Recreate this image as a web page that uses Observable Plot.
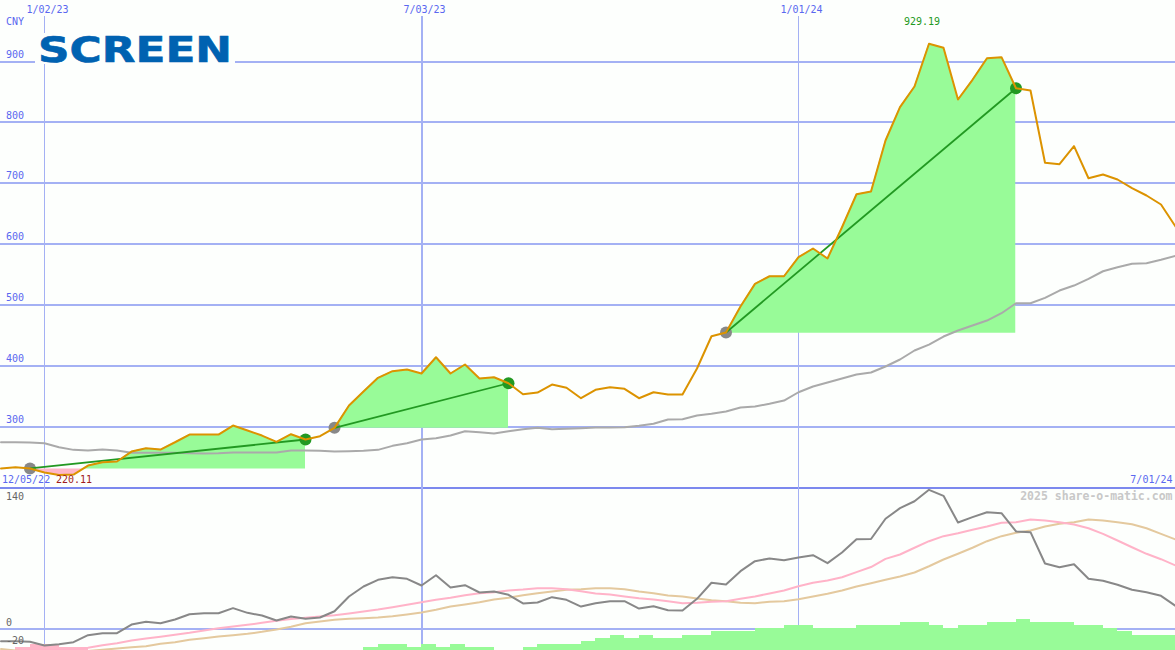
<!DOCTYPE html>
<html><head><meta charset="utf-8">
<script src="https://cdn.jsdelivr.net/npm/d3@7"></script>
<script src="https://cdn.jsdelivr.net/npm/@observablehq/plot@0.6"></script>
<style>
html,body{margin:0;padding:0;background:#fdfffd;overflow:hidden}
#chart{position:relative;width:1175px;height:650px;overflow:hidden}
#chart>svg{position:absolute;left:0;display:block}
</style></head><body><div id="chart"></div>
<script>
const price=[230.9,233,231,224.3,220.11,221,235.8,241.2,242.4,258.8,264.3,262.1,274.1,286.8,286.8,286.8,301.6,293.4,285.1,274.8,287.3,278.6,284,297.8,334.5,357.5,380,390.9,393.6,387.1,413.9,387.1,401.9,378.9,381,371.1,353,355.8,369,363.6,346.5,360.3,364.6,361.9,346.5,356.3,352.5,352.5,395.3,448.4,454.5,497.2,534.5,547,547,578.3,592.6,576.1,627.6,681.8,686.3,770.1,824.9,858.9,929.19,922.5,837.5,869.9,905.4,907.1,856.1,852.3,733.5,731.2,760.8,708.1,714.2,706,691.7,679.7,664.9,628.7];
const average=[274.1,274.1,273.6,272.5,265.9,261.6,260.5,262.1,260.5,256.7,256.7,256.7,256.7,256,255.6,256,257.2,257.2,257.2,257.2,260.5,260.5,260,258.8,259.3,260,261.6,268.2,272.5,278.6,280.7,285.1,292.2,290.6,288.4,292.2,295.5,297.8,295.5,296.2,297.1,298.3,298.3,298.8,301.1,304.4,311.4,312,318,320.8,324.6,331.2,332.8,337.3,342.7,356.3,365.7,372.3,378.9,385.4,388.7,398.6,410.1,424.9,434.7,447.9,457.8,466,474.2,486.2,502.6,502.6,511.5,523.5,531.7,542.8,555.2,561.8,567.4,568.4,574,580.6];
const oscillator=[-14.1,-14.1,-14.8,-18.9,-17.4,-15.2,-7.4,-5.2,-5.2,4.4,7.4,5.9,10,15.9,17,17,22.6,17.4,14.4,8.9,13.3,10.8,12.2,19.2,35.6,46.7,54.1,57,55.2,47.8,59.2,45.6,48.1,40,41.1,37.4,27.8,28.9,34.8,31.9,24.4,28.1,30.3,30.3,22.2,24.8,20.3,20,33,50.8,48.9,63.7,74.8,77.8,75.9,78.9,81.4,72.6,84.4,99.2,99.4,121.9,133.7,141.4,154.1,147.4,117.8,123.7,129.2,128.1,107.8,107,72.2,68.1,71.4,55.2,53,48.6,43,40.3,36.3,25.2];
const signalPink=[-25.6,-25,-24.4,-24.4,-23.9,-23.3,-21.4,-18.6,-16.3,-13.3,-11.1,-9.2,-7,-4.8,-2.2,.3,2.2,4.1,6.3,8.6,10.6,11.9,13.3,14.8,16.7,18.9,21.1,23.7,26.3,29.2,31.9,34.1,37,39.2,40.3,42.2,43.3,44.8,44.8,43.7,41.3,38.9,37.8,35.6,33.7,32.2,30.3,28.1,28.6,29.7,30.3,33,35.6,38.9,42.2,47,50.8,53.3,57,62.6,68.3,77.4,82.2,89.7,97,102.6,105.9,109.7,113.3,117.4,118.1,121.1,120,118.1,115.6,111.4,105.2,97.8,90.3,83,77,70];
const signalTan=[-22.8,-24.4,-26.1,-26.7,-26.7,-26.1,-25,-23.7,-22.2,-20.8,-19.7,-17,-15.2,-12.6,-10.8,-8.9,-7.4,-5.9,-3.7,-1.1,2,5.9,7.8,9.7,10.8,11.4,12.2,13.7,15.6,17.8,20.8,24.4,26.7,29.2,32.2,34.1,37,39.2,41.1,43,43.7,44.8,44.8,43.7,41.1,39.2,36.7,35.6,33.3,31.4,30.3,28.6,28.1,29.7,30.3,32.6,35.6,38.6,42.2,46.7,50.3,54.1,57.8,62.2,69.2,76.7,83,89.7,97,102.6,106.3,108.9,113.3,116.3,118.1,121.1,120,118.1,115.9,111.4,105.2,98.9];
const barIndexUp=[25,26,27,28,29,30,31,32,33,36,37,38,39,40,41,42,43,44,45,46,47,48,49,50,51,52,53,54,55,56,57,58,59,60,61,62,63,64,65,66,67,68,69,70,71,72,73,74,75,76,77,78,79,80];
const barValueUp=[-21.4,-17.8,-17.8,-21.4,-17.8,-21.4,-17.8,-21.4,-21.4,-21.4,-17.8,-17.8,-17.8,-14.4,-11.1,-7.8,-11.1,-7.8,-11.1,-11.1,-7.8,-7.8,-3.3,-3.3,-3.3,0.3,0.3,3.3,3.3,0.3,0.3,0.3,3.3,3.3,3.3,6.7,6.7,3.3,0.3,3.3,3.3,6.7,6.7,10,6.7,6.7,6.7,3.3,3.3,0.3,-3.3,-7.8,-7.8,-7.8];
const barIndexDown=[1,2,3,4,5];
const barValueDown=[-20.8,-17.8,-17.8,-20.8,-20.8];
const entries=[2,23,50], exits=[21,35,70], fillLevels=[230,297,453.3];
const priceTicks=[900,800,700,600,500,400,300];
const dateIndex=[3,29,55], dateLabels=["1/02/23","7/03/23","1/01/24"], dateWidths=[1.2,2,1.2];
const oscTicks=[140,0,-20];

const rows=price.map((p,i)=>({i,price:p,average:average[i],osc:oscillator[i],pink:signalPink[i],tan:signalTan[i]}));
const ink="#5a68f0", gridColor="#a4b1f4", sepColor="#7c89ee", mono="DejaVu Sans Mono";
const base={width:1175,marginLeft:0,marginRight:0,marginBottom:0,style:{background:"transparent",fontFamily:mono,fontSize:"10px"}};
const X={domain:[0,81],range:[.5,1175]};
const sepLevel=199.6;

const tradeAreas=entries.map((e,t)=>{
  const seg=rows.slice(e,exits[t]+1);
  return Plot.differenceY(seg,{x:"i",y1:()=>fillLevels[t],y2:"price",positiveFill:"#98fb98",negativeFill:"#ffb6c8",fillOpacity:1,positiveFillOpacity:1,negativeFillOpacity:1,stroke:"none"});
});
const trades=entries.map((e,t)=>({x1:e,x2:exits[t],y1:price[e],y2:price[exits[t]]}));

const upperPlot=Plot.plot({...base,height:490,marginTop:16,
  x:{...X,axis:null},y:{domain:[900,300],range:[61,426],axis:null},
  marks:[
    Plot.ruleY(priceTicks,{stroke:gridColor,strokeWidth:2,shapeRendering:"crispEdges"}),
    Plot.ruleX(dateIndex,{stroke:gridColor,strokeWidth:(d,k)=>dateWidths[k],shapeRendering:"crispEdges"}),
    Plot.ruleY([sepLevel],{stroke:sepColor,strokeWidth:2,shapeRendering:"crispEdges"}),
    ...tradeAreas,
    Plot.line(rows,{x:"i",y:"average",stroke:"#aaaaaa",strokeWidth:2,curve:"linear"}),
    Plot.dot(entries,{x:d=>d,y:d=>price[d],r:6,fill:"#888888",stroke:"none"}),
    Plot.dot(exits,{x:d=>d,y:d=>price[d],r:6,fill:"#229922",stroke:"none"}),
    Plot.link(trades,{x1:"x1",x2:"x2",y1:"y1",y2:"y2",stroke:"#229922",strokeWidth:1.8}),
    Plot.line(rows,{x:"i",y:"price",stroke:"#dc9300",strokeWidth:2,curve:"linear"}),
    Plot.text(priceTicks,{x:0,y:d=>d,text:d=>String(d),textAnchor:"start",dx:5,dy:-7,fill:ink}),
    Plot.text(dateIndex,{x:d=>d,frameAnchor:"top",dx:3,dy:-11,text:(d,k)=>dateLabels[k],fill:ink}),
    Plot.text(["CNY"],{x:0,frameAnchor:"top",dx:5,dy:1,textAnchor:"start",fill:ink}),
    Plot.text(["929.19"],{x:64,y:929.19,dx:-7,dy:-22,fill:"#229922"}),
    Plot.text(["12/05/22"],{x:0,y:sepLevel,dx:1,dy:-8,textAnchor:"start",fill:ink}),
    Plot.text(["220.11"],{x:4,y:sepLevel,dx:-3,dy:-8,textAnchor:"start",fill:"#a01c1c"}),
    Plot.text(["7/01/24"],{x:81,y:sepLevel,dx:-3,dy:-8,textAnchor:"end",fill:ink})
  ]});
upperPlot.style.top="0";

const lowerPlot=Plot.plot({...base,height:163,marginTop:0,
  x:{...X,axis:null},y:{domain:[0,140],range:[141,15],axis:null},
  marks:[
    Plot.ruleY([0],{stroke:gridColor,strokeWidth:2,shapeRendering:"crispEdges"}),
    Plot.ruleX(dateIndex,{stroke:gridColor,strokeWidth:(d,k)=>dateWidths[k],shapeRendering:"crispEdges"}),
    Plot.rectY(barIndexUp,{x1:d=>d,x2:d=>d+1,y1:()=>-30,y2:(d,k)=>barValueUp[k],fill:"#98fb98",clip:true,shapeRendering:"crispEdges"}),
    Plot.rectY(barIndexDown,{x1:d=>d,x2:d=>d+1,y1:()=>-30,y2:(d,k)=>barValueDown[k],fill:"#ffb6c8",clip:true,shapeRendering:"crispEdges"}),
    Plot.line(rows,{x:"i",y:"tan",stroke:"#e4c99e",strokeWidth:2,clip:true}),
    Plot.line(rows,{x:"i",y:"pink",stroke:"#ffb3c8",strokeWidth:2,clip:true}),
    Plot.line(rows,{x:"i",y:"osc",stroke:"#888888",strokeWidth:2,clip:true}),
    Plot.text(oscTicks,{x:0,y:d=>d,text:d=>String(d),textAnchor:"start",dx:5,dy:-6,fill:"#666666"}),
    Plot.text(["2025 share-o-matic.com"],{x:81,y:140,dx:-3,dy:-6,textAnchor:"end",fill:"#c8c8c8",fontWeight:"bold",fontSize:11.5})
  ]});
lowerPlot.style.top="487px";

const chart=document.getElementById("chart");
chart.append(upperPlot,lowerPlot);
const logo=d3.create("svg").attr("width",204).attr("height",44).style("left","33px").style("top","26px");
logo.append("rect").attr("x",2).attr("y",7).attr("width",200).attr("height",31).attr("fill","#fdfffd");
logo.append("text").text("SCREEN").attr("x",5).attr("y",36).attr("textLength",194).attr("lengthAdjust","spacingAndGlyphs")
  .attr("font-family","DejaVu Sans").attr("font-weight","bold").attr("font-size",36).attr("fill","#0062b1")
  .attr("stroke","#0062b1").attr("stroke-width",0.6);
chart.append(logo.node());
</script></body></html>
